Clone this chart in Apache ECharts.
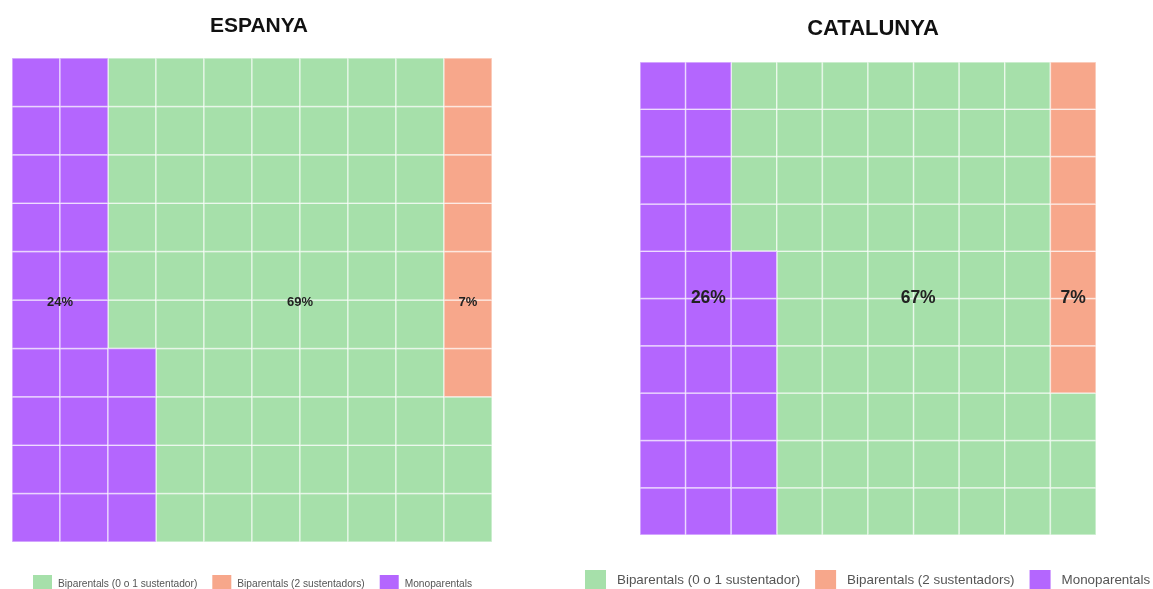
<!DOCTYPE html>
<html>
<head>
<meta charset="utf-8">
<title>Llars amb infants</title>
<script src="https://cdn.jsdelivr.net/npm/echarts@6.0.0/dist/echarts.min.js"></script>
<style>
  html, body { margin: 0; padding: 0; background: #fff; }
  #chart { width: 1153px; height: 589px; }
</style>
</head>
<body>
<div id="chart"></div>
<script>
// tipus de llar, en l'ordre de la llegenda
const categories = ['Biparentals (0 o 1 sustentador)', 'Biparentals (2 sustentadors)', 'Monoparentals']
const regions = ['ESPANYA', 'CATALUNYA']
// percentatges (= cel·les d'una graella 10x10)
const espanyaPct = [69, 7, 24]
const catalunyaPct = [67, 7, 26]
const colors = ['#a6e0aa', '#f7a78b', '#b466fe']

// ordre d'emplenat: monoparentals primer, per columnes de baix a dalt
const fillOrder = [2, 0, 1]
const labelAnchors = [
  [[6, 4.94], [9.5, 4.94], [1, 4.94]],
  [[6.1, 5], [9.5, 5], [1.5, 5]]
]

function buildCells(pcts) {
  const cells = categories.map(() => [])
  let n = 0
  fillOrder.forEach(ci => {
    for (let k = 0; k < pcts[ci]; k++) {
      cells[ci].push([Math.floor(n / 10), n % 10])
      n++
    }
  })
  return cells
}

function renderCell(params, api) {
  const p0 = api.coord([api.value(0), api.value(1) + 1])
  const p1 = api.coord([api.value(0) + 1, api.value(1)])
  return {
    type: 'rect',
    shape: { x: p0[0], y: p0[1], width: p1[0] - p0[0], height: p1[1] - p0[1] },
    style: { fill: api.visual('color'), stroke: 'rgba(255,255,255,0.55)', lineWidth: 1.5 }
  }
}

function labelRenderer(fontSize) {
  return function (params, api) {
    const p = api.coord([api.value(0), api.value(1)])
    return {
      type: 'text',
      x: p[0],
      y: p[1],
      style: {
        text: api.value(2) + '%',
        align: 'center',
        verticalAlign: 'middle',
        font: 'bold ' + fontSize + 'px "Liberation Sans", Arial, sans-serif',
        fill: '#222'
      }
    }
  }
}

const allPcts = [espanyaPct, catalunyaPct]
const series = []
allPcts.forEach((pcts, gi) => {
  const cells = buildCells(pcts)
  categories.forEach((name, ci) => {
    series.push({
      name: name,
      type: 'custom',
      xAxisIndex: gi,
      yAxisIndex: gi,
      itemStyle: { color: colors[ci] },
      renderItem: renderCell,
      encode: { x: 0, y: 1 },
      data: cells[ci]
    })
  })
  series.push({
    type: 'custom',
    xAxisIndex: gi,
    yAxisIndex: gi,
    silent: true,
    z: 10,
    renderItem: labelRenderer(gi === 0 ? 13 : 17.5),
    encode: { x: 0, y: 1 },
    data: categories.map((c, ci) => [labelAnchors[gi][ci][0], labelAnchors[gi][ci][1], pcts[ci]])
  })
})

const chart = echarts.init(document.getElementById('chart'))
chart.setOption({
  animation: false,
  textStyle: { fontFamily: '"Liberation Sans", Arial, sans-serif' },
  title: [
    {
      text: regions[0], left: 254, top: 11, textAlign: 'center',
      textStyle: { fontSize: 21, fontWeight: 'bold', color: '#111' }
    },
    {
      text: regions[1], left: 868, top: 13, textAlign: 'center',
      textStyle: { fontSize: 22, fontWeight: 'bold', color: '#111' }
    }
  ],
  legend: [
    {
      data: categories, left: 28, top: 570, width: 520, icon: 'rect',
      itemWidth: 19, itemHeight: 19, itemGap: 15,
      textStyle: { fontSize: 10.2, color: '#555', padding: [0, 0, 0, 1] }
    },
    {
      data: categories, left: 580, top: 565, width: 640, icon: 'rect',
      itemWidth: 21, itemHeight: 21, itemGap: 15,
      textStyle: { fontSize: 13.4, color: '#555', padding: [0, 0, 0, 6] }
    }
  ],
  grid: [
    { left: 12, top: 58, width: 480, height: 484 },
    { left: 640, top: 62, width: 456, height: 473 }
  ],
  xAxis: [0, 1].map(i => ({ type: 'value', gridIndex: i, min: 0, max: 10, show: false })),
  yAxis: [0, 1].map(i => ({ type: 'value', gridIndex: i, min: 0, max: 10, show: false })),
  series: series
})
</script>
</body>
</html>
